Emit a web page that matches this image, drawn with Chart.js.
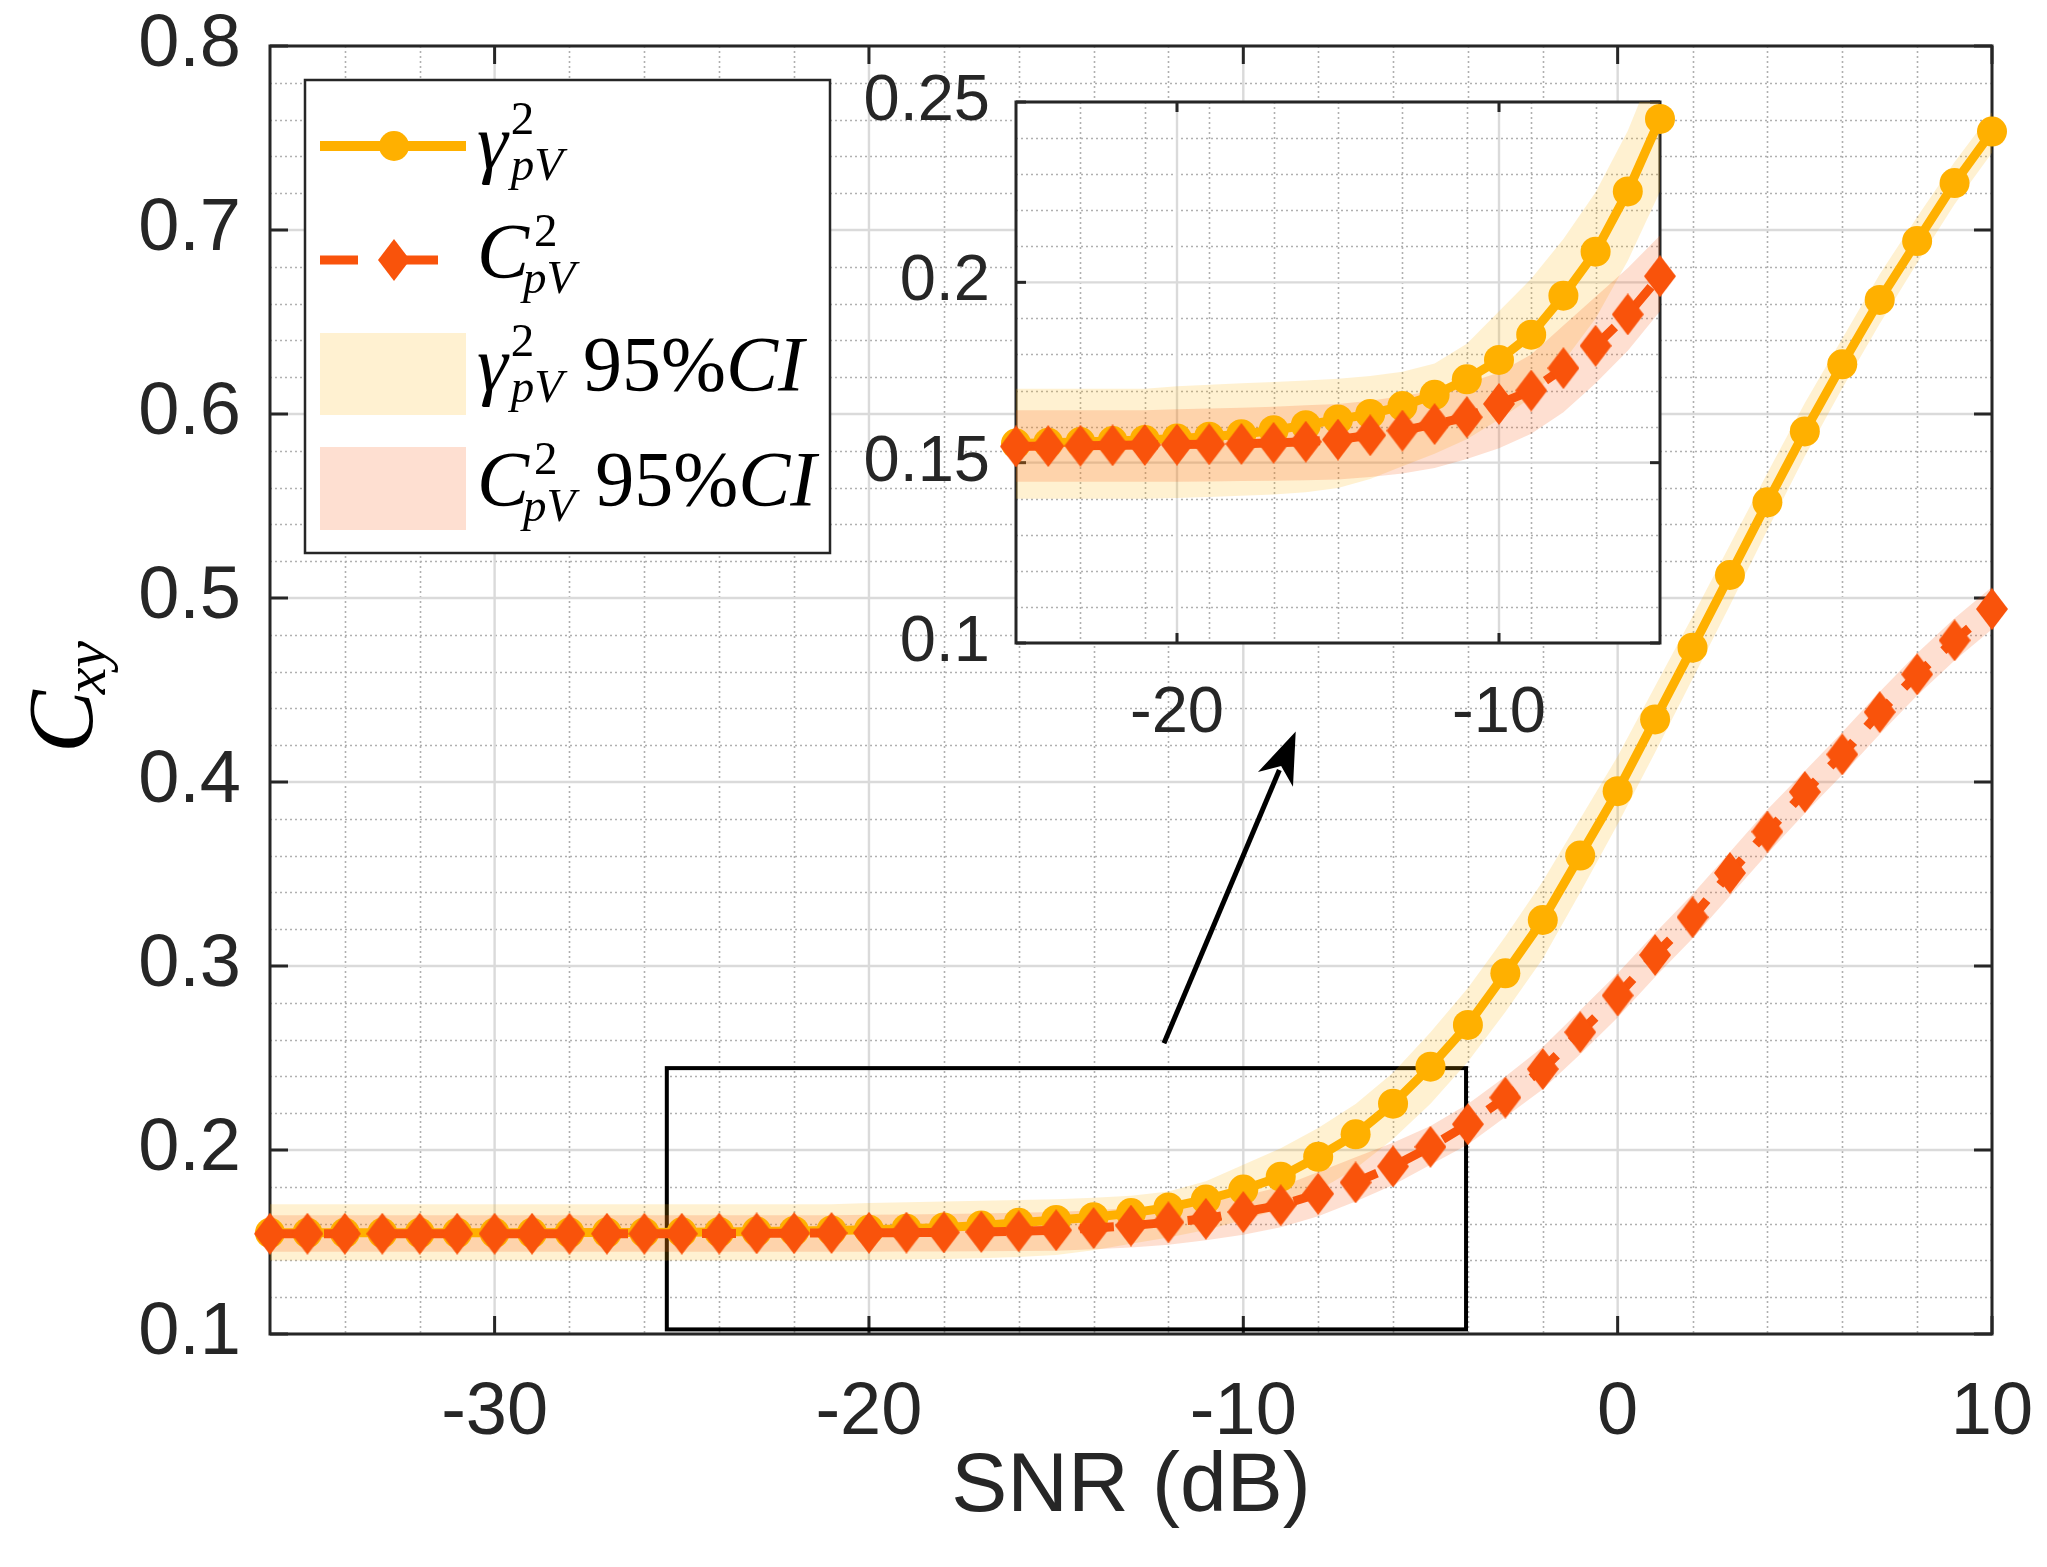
<!DOCTYPE html>
<html><head><meta charset="utf-8">
<script src="https://cdn.jsdelivr.net/npm/chart.js@4.4.1/dist/chart.umd.min.js"></script>
<style>
html,body{margin:0;padding:0;background:#fff;}
#wrap{position:relative;width:2047px;height:1567px;overflow:hidden;}
#main{position:absolute;left:0;top:0;}
#inset{position:absolute;left:840px;top:40px;}
</style></head><body>
<div id="wrap"><canvas id="main" width="2047" height="1567"></canvas><canvas id="inset" width="840" height="740"></canvas></div>
<script>
// ---------------- data ----------------
const snr = [-36,-35,-34,-33,-32,-31,-30,-29,-28,-27,-26,-25,-24,-23,-22,-21,-20,-19,-18,-17,-16,-15,-14,-13,-12,-11,-10,-9,-8,-7,-6,-5,-4,-3,-2,-1,0,1,2,3,4,5,6,7,8,9,10];
const gammaMean = [0.1550,0.1550,0.1550,0.1550,0.1550,0.1550,0.1550,0.1550,0.1551,0.1551,0.1552,0.1553,0.1555,0.1557,0.1560,0.1563,0.1567,0.1572,0.1579,0.1590,0.1604,0.1620,0.1635,0.1657,0.1688,0.1731,0.1785,0.1855,0.1963,0.2085,0.2252,0.2453,0.2680,0.2960,0.3250,0.3600,0.3950,0.4340,0.4730,0.5125,0.5520,0.5905,0.6270,0.6620,0.6940,0.7255,0.7535];
const gammaLow = [0.1400,0.1400,0.1400,0.1400,0.1400,0.1400,0.1400,0.1400,0.1400,0.1400,0.1400,0.1400,0.1400,0.1400,0.1400,0.1400,0.1402,0.1405,0.1408,0.1412,0.1418,0.1430,0.1455,0.1490,0.1525,0.1565,0.1620,0.1680,0.1780,0.1900,0.2060,0.2252,0.2480,0.2750,0.3040,0.3400,0.3770,0.4160,0.4560,0.4960,0.5370,0.5770,0.6140,0.6490,0.6820,0.7140,0.7420];
const gammaHigh = [0.1705,0.1705,0.1705,0.1705,0.1705,0.1705,0.1705,0.1705,0.1705,0.1705,0.1705,0.1705,0.1705,0.1705,0.1705,0.1705,0.1712,0.1716,0.1720,0.1724,0.1728,0.1733,0.1740,0.1752,0.1775,0.1830,0.1920,0.2010,0.2120,0.2250,0.2420,0.2640,0.2880,0.3160,0.3460,0.3800,0.4140,0.4520,0.4900,0.5290,0.5680,0.6060,0.6410,0.6760,0.7070,0.7370,0.7640];
const cMean = [0.1545,0.1545,0.1545,0.1545,0.1545,0.1545,0.1545,0.1545,0.1545,0.1545,0.1545,0.1545,0.1546,0.1547,0.1548,0.1549,0.1550,0.1551,0.1552,0.1555,0.1558,0.1564,0.1576,0.1589,0.1607,0.1626,0.1663,0.1700,0.1762,0.1824,0.1911,0.2017,0.2140,0.2285,0.2440,0.2640,0.2840,0.3060,0.3265,0.3506,0.3730,0.3946,0.4150,0.4380,0.4585,0.4770,0.4940];
const cLow = [0.1447,0.1447,0.1447,0.1447,0.1447,0.1447,0.1447,0.1447,0.1447,0.1447,0.1447,0.1447,0.1447,0.1447,0.1447,0.1447,0.1447,0.1448,0.1449,0.1450,0.1451,0.1453,0.1460,0.1470,0.1485,0.1510,0.1540,0.1580,0.1640,0.1720,0.1810,0.1920,0.2030,0.2180,0.2330,0.2520,0.2720,0.2940,0.3150,0.3380,0.3610,0.3830,0.4040,0.4260,0.4470,0.4660,0.4830];
const cHigh = [0.1645,0.1645,0.1645,0.1645,0.1645,0.1645,0.1645,0.1645,0.1645,0.1645,0.1645,0.1645,0.1645,0.1645,0.1645,0.1645,0.1648,0.1650,0.1652,0.1655,0.1659,0.1663,0.1672,0.1685,0.1700,0.1720,0.1750,0.1800,0.1880,0.1960,0.2040,0.2130,0.2250,0.2400,0.2560,0.2760,0.2960,0.3180,0.3390,0.3620,0.3850,0.4060,0.4270,0.4490,0.4700,0.4890,0.5060];
const xTicksMain = [-30,-20,-10,0,10];
const yTicksMain = [0.1,0.2,0.3,0.4,0.5,0.6,0.7,0.8];
const xTicksInset = [-20,-10];
const yTicksInset = [0.1,0.15,0.2,0.25];
const xLabel = 'SNR (dB)';
const legendLabels = [
  {sym:'γ', sup:'2', sub:'pV', tail:''},
  {sym:'C', sup:'2', sub:'pV', tail:''},
  {sym:'γ', sup:'2', sub:'pV', tail:'95%CI'},
  {sym:'C', sup:'2', sub:'pV', tail:'95%CI'}
];
// annotation placement in data units
const zoomBox = {x0:-25.4, x1:-4.05, y0:0.1025, y1:0.2445};
const arrowFrom = {x:-12.12, y:0.258};
const arrowTo = {x:-8.6, y:0.4275};

// ---------------- style ----------------
const FONT = "'Liberation Sans', Arial, Helvetica, sans-serif";
const SERIF = "'Liberation Serif', 'Times New Roman', serif";
const AXIS = '#262626';
const GAMMA = '#FFB000';
const CCOL = '#F9530B';
const GAMMA_FILL = 'rgba(255,176,0,0.18)';
const C_FILL = 'rgba(249,83,11,0.19)';
const MAJOR_GRID = '#dadada';
const MINOR_GRID = '#b0b0b0';

function makeDiamond(w, h, color){
  const c = document.createElement('canvas'); c.width = w; c.height = h;
  const g = c.getContext('2d'); g.fillStyle = color; g.beginPath();
  g.moveTo(w/2,0); g.lineTo(w,h/2); g.lineTo(w/2,h); g.lineTo(0,h/2); g.closePath(); g.fill();
  return c;
}
const diamondImg = makeDiamond(32, 42, CCOL);

function pts(ys, lo, hi){
  return snr.map((x,i)=>({x:x, y:ys[i]})).filter(p => (lo===undefined || p.x>=lo) && (hi===undefined || p.x<=hi));
}
function buildDatasets(lo, hi){
  return [
    {label:'C', data:pts(cMean,lo,hi), borderColor:CCOL, backgroundColor:CCOL, borderWidth:9, borderDash:[34,20],
     pointStyle:diamondImg, pointRadius:16, pointBorderWidth:0, clip:false, fill:false},
    {label:'gamma', data:pts(gammaMean,lo,hi), borderColor:GAMMA, backgroundColor:GAMMA, borderWidth:9,
     pointStyle:'circle', pointRadius:15, pointBorderWidth:0, clip:false, fill:false},
    {label:'cLow', data:pts(cLow), borderColor:'transparent', borderWidth:0, pointRadius:0, fill:false},
    {label:'cHigh', data:pts(cHigh), borderColor:'transparent', borderWidth:0, pointRadius:0, fill:'-1', backgroundColor:C_FILL},
    {label:'gLow', data:pts(gammaLow), borderColor:'transparent', borderWidth:0, pointRadius:0, fill:false},
    {label:'gHigh', data:pts(gammaHigh), borderColor:'transparent', borderWidth:0, pointRadius:0, fill:'-1', backgroundColor:GAMMA_FILL}
  ];
}

function seg(ctx, x1, y1, x2, y2){ ctx.beginPath(); ctx.moveTo(x1,y1); ctx.lineTo(x2,y2); ctx.stroke(); }
function noPad(s){ s.paddingTop = 0; s.paddingBottom = 0; s.paddingLeft = 0; s.paddingRight = 0; }

function drawGridAndBox(chart, cfg){
  const {ctx, chartArea:a, scales:{x, y}} = chart;
  ctx.save();
  ctx.fillStyle = '#fff'; ctx.fillRect(a.left, a.top, a.right-a.left, a.bottom-a.top);
  // minor grid (dotted)
  ctx.strokeStyle = MINOR_GRID; ctx.lineWidth = 1.6; ctx.setLineDash([2,3]);
  const nx = Math.round((x.max - x.min)/cfg.xMinor);
  for (let k=0;k<=nx;k++){
    const v = x.min + k*cfg.xMinor;
    if (cfg.xTicks.some(t=>Math.abs(t-v)<1e-9) || Math.abs(v-x.min)<1e-9 || Math.abs(v-x.max)<1e-9) continue;
    const p = Math.round(x.getPixelForValue(v)) + 0.5; seg(ctx, p, a.top, p, a.bottom);
  }
  const ny = Math.round((y.max - y.min)/cfg.yMinor);
  for (let k=0;k<=ny;k++){
    const v = y.min + k*cfg.yMinor;
    if (cfg.yTicks.some(t=>Math.abs(t-v)<1e-9) || Math.abs(v-y.min)<1e-9 || Math.abs(v-y.max)<1e-9) continue;
    const p = Math.round(y.getPixelForValue(v)) + 0.5; seg(ctx, a.left, p, a.right, p);
  }
  // major grid
  ctx.setLineDash([]); ctx.strokeStyle = MAJOR_GRID; ctx.lineWidth = 2.4;
  cfg.xTicks.forEach(v=>{ const p = x.getPixelForValue(v); seg(ctx, p, a.top, p, a.bottom); });
  cfg.yTicks.forEach(v=>{ const p = y.getPixelForValue(v); seg(ctx, a.left, p, a.right, p); });
  // box
  ctx.strokeStyle = AXIS; ctx.lineWidth = cfg.boxWidth;
  ctx.strokeRect(a.left, a.top, a.right-a.left, a.bottom-a.top);
  // inward ticks on all four sides
  const L = cfg.tickLen;
  cfg.xTicks.forEach(v=>{ const p = x.getPixelForValue(v); seg(ctx, p, a.bottom, p, a.bottom-L); seg(ctx, p, a.top, p, a.top+L); });
  cfg.yTicks.forEach(v=>{ const p = y.getPixelForValue(v); seg(ctx, a.left, p, a.left+L, p); seg(ctx, a.right, p, a.right-L, p); });
  ctx.restore();
}

function drawMath(ctx, item, x, yb, spec){
  ctx.save();
  ctx.fillStyle = '#000'; ctx.textAlign = 'left'; ctx.textBaseline = 'alphabetic';
  ctx.font = 'italic ' + spec.size + 'px ' + SERIF;
  ctx.fillText(item.sym, x, yb);
  const w = ctx.measureText(item.sym).width;
  const o = item.sym === 'γ' ? spec.g : spec.c;
  ctx.font = spec.small + 'px ' + SERIF;
  ctx.fillText(item.sup, x + w + o.supDx, yb + o.supDy);
  ctx.font = 'italic ' + spec.small + 'px ' + SERIF;
  const sx = x + w + o.subDx;
  ctx.fillText(item.sub, sx, yb + o.subDy);
  const sw = ctx.measureText(item.sub).width;
  if (item.tail){
    let tx = sx + sw + spec.gap;
    const m = item.tail.match(/^([0-9%]+)(.*)$/);
    ctx.font = spec.size + 'px ' + SERIF;
    ctx.fillText(m[1], tx, yb);
    tx += ctx.measureText(m[1]).width;
    ctx.font = 'italic ' + spec.size + 'px ' + SERIF;
    ctx.fillText(m[2], tx, yb);
  }
  ctx.restore();
}

const mainPlugin = {
  id:'mainDecor',
  beforeDatasetsDraw(chart){
    drawGridAndBox(chart, {xTicks:xTicksMain, yTicks:yTicksMain, xMinor:2, yMinor:0.02, tickLen:18, boxWidth:3});
    const {ctx, scales:{x, y}} = chart;
    ctx.save();
    ctx.strokeStyle = '#000'; ctx.lineWidth = 4;
    const x0 = x.getPixelForValue(zoomBox.x0), x1 = x.getPixelForValue(zoomBox.x1);
    const y0 = y.getPixelForValue(zoomBox.y0), y1 = y.getPixelForValue(zoomBox.y1);
    ctx.strokeRect(x0, y1, x1-x0, y0-y1);
    ctx.restore();
  },
  afterDatasetsDraw(chart){
    const {ctx, scales:{x, y}} = chart;
    ctx.save();
    // arrow
    const ax = x.getPixelForValue(arrowFrom.x), ay = y.getPixelForValue(arrowFrom.y);
    const bx = x.getPixelForValue(arrowTo.x), by = y.getPixelForValue(arrowTo.y);
    const ang = Math.atan2(by-ay, bx-ax), hl = 52, hw = 19;
    const cx = bx - hl*Math.cos(ang), cy = by - hl*Math.sin(ang);
    ctx.strokeStyle = '#000'; ctx.lineWidth = 5;
    seg(ctx, ax, ay, cx + 10*Math.cos(ang), cy + 10*Math.sin(ang));
    ctx.fillStyle = '#000'; ctx.beginPath();
    ctx.moveTo(bx, by);
    ctx.lineTo(cx - hw*Math.sin(ang), cy + hw*Math.cos(ang));
    ctx.lineTo(bx - 0.72*hl*Math.cos(ang), by - 0.72*hl*Math.sin(ang));
    ctx.lineTo(cx + hw*Math.sin(ang), cy - hw*Math.cos(ang));
    ctx.closePath(); ctx.fill();
    // legend box
    ctx.fillStyle = '#fff'; ctx.fillRect(305, 80, 525, 473);
    ctx.strokeStyle = AXIS; ctx.lineWidth = 2.5; ctx.strokeRect(305, 80, 525, 473);
    ctx.strokeStyle = GAMMA; ctx.lineWidth = 10; seg(ctx, 320, 146, 466, 146);
    ctx.fillStyle = GAMMA; ctx.beginPath(); ctx.arc(394, 146, 15, 0, Math.PI*2); ctx.fill();
    ctx.strokeStyle = CCOL; ctx.lineWidth = 9; seg(ctx, 320, 260, 358, 260); seg(ctx, 388, 260, 438, 260);
    ctx.drawImage(diamondImg, 394 - 16, 260 - 21);
    ctx.fillStyle = GAMMA_FILL; ctx.fillRect(320, 333, 146, 82);
    ctx.fillStyle = C_FILL; ctx.fillRect(320, 447, 146, 83);
    const spec = {size:78, small:47, gap:20,
      g:{supDx:3, supDy:-34, subDx:3, subDy:12},
      c:{supDx:5, supDy:-31, subDx:-6, subDy:16}};
    drawMath(ctx, legendLabels[0], 477, 168, spec);
    drawMath(ctx, legendLabels[1], 477, 277, spec);
    drawMath(ctx, legendLabels[2], 477, 390, spec);
    drawMath(ctx, legendLabels[3], 477, 505, spec);
    // y axis title C_xy
    ctx.translate(92, 753); ctx.rotate(-Math.PI/2);
    ctx.fillStyle = '#000'; ctx.textAlign = 'left'; ctx.textBaseline = 'alphabetic';
    ctx.font = 'italic 94px ' + SERIF; ctx.fillText('C', 0, 0);
    const cw = ctx.measureText('C').width;
    ctx.font = 'italic 60px ' + SERIF; ctx.fillText('xy', cw - 4, 13);
    ctx.restore();
  }
};

const insetPlugin = {
  id:'insetDecor',
  beforeDatasetsDraw(chart){
    drawGridAndBox(chart, {xTicks:xTicksInset, yTicks:yTicksInset, xMinor:2, yMinor:0.01, tickLen:10, boxWidth:3});
  }
};

Chart.defaults.font.family = FONT;

new Chart(document.getElementById('main'), {
  type:'line',
  data:{datasets:buildDatasets()},
  options:{
    responsive:false, devicePixelRatio:1, animation:false, events:[],
    layout:{padding:{left:0, right:55, top:46, bottom:0}},
    plugins:{legend:{display:false}, tooltip:{enabled:false}},
    scales:{
      x:{type:'linear', min:-36, max:10, position:'bottom',
        afterBuildTicks:s=>{ s.ticks = xTicksMain.map(v=>({value:v})); },
        afterFit:s=>{ s.height = 233; noPad(s); },
        grid:{display:false, drawTicks:false}, border:{display:false},
        ticks:{font:{family:FONT, size:74}, color:AXIS, padding:35, maxRotation:0, autoSkip:false, callback:v=>String(v)},
        title:{display:true, text:xLabel, color:AXIS, font:{family:FONT, size:84, lineHeight:1}, padding:{top:0, bottom:37}}
      },
      y:{type:'linear', min:0.1, max:0.8,
        afterBuildTicks:s=>{ s.ticks = yTicksMain.map(v=>({value:v})); },
        afterFit:s=>{ s.width = 270; noPad(s); },
        grid:{display:false, drawTicks:false}, border:{display:false},
        ticks:{font:{family:FONT, size:74}, color:AXIS, padding:29, callback:v=>Number(v).toFixed(1)}
      }
    }
  },
  plugins:[mainPlugin]
});

new Chart(document.getElementById('inset'), {
  type:'line',
  data:{datasets:buildDatasets(-25, -5)},
  options:{
    responsive:false, devicePixelRatio:1, animation:false, events:[],
    layout:{padding:{left:0, right:20, top:62, bottom:0}},
    plugins:{legend:{display:false}, tooltip:{enabled:false}},
    scales:{
      x:{type:'linear', min:-25, max:-5, position:'bottom',
        afterBuildTicks:s=>{ s.ticks = xTicksInset.map(v=>({value:v})); },
        afterFit:s=>{ s.height = 137; noPad(s); },
        grid:{display:false, drawTicks:false}, border:{display:false},
        ticks:{font:{family:FONT, size:65}, color:AXIS, padding:32, maxRotation:0, autoSkip:false, callback:v=>String(v)}
      },
      y:{type:'linear', min:0.1, max:0.25,
        afterBuildTicks:s=>{ s.ticks = yTicksInset.map(v=>({value:v})); },
        afterFit:s=>{ s.width = 176; noPad(s); },
        grid:{display:false, drawTicks:false}, border:{display:false},
        ticks:{font:{family:FONT, size:65}, color:AXIS, padding:26, callback:v=>String(Number(Number(v).toFixed(2)))}
      }
    }
  },
  plugins:[insetPlugin]
});
</script>
</body></html>
